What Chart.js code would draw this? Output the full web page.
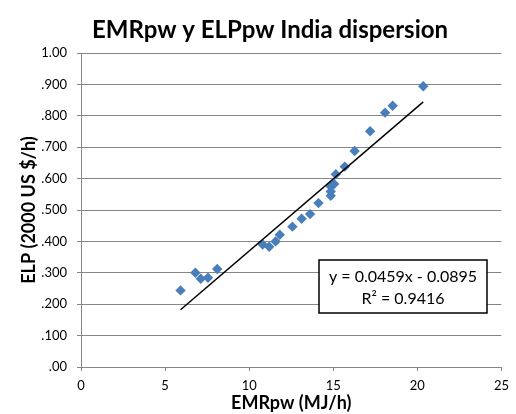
<!DOCTYPE html>
<html>
<head>
<meta charset="utf-8">
<script src="https://cdn.jsdelivr.net/npm/chart.js@4/dist/chart.umd.min.js"></script>
<style>
  html, body { margin: 0; padding: 0; background: #ffffff; }
  #wrap { width: 516px; height: 414px; position: relative; }
</style>
</head>
<body>
<div id="wrap"><canvas id="c" width="516" height="414"></canvas></div>
<script>
// ---- Data ----
const emrValues = [5.92, 6.80, 7.12, 7.55, 8.10, 10.80, 11.19, 11.57, 11.82, 12.57, 13.12, 13.62, 14.12, 14.85, 14.85, 14.85, 15.05, 15.15, 15.68, 16.27, 17.19, 18.08, 18.53, 20.35];
const elpValues = [0.244, 0.300, 0.281, 0.284, 0.312, 0.390, 0.383, 0.400, 0.421, 0.447, 0.472, 0.487, 0.522, 0.545, 0.559, 0.575, 0.583, 0.614, 0.638, 0.688, 0.751, 0.810, 0.832, 0.894];
const xTickValues = [0, 5, 10, 15, 20, 25];
const yTickLabels = ['.00', '.100', '.200', '.300', '.400', '.500', '.600', '.700', '.800', '.900', '1.00'];
const trendSlope = 0.0459;
const trendIntercept = -0.0895;
const chartTitle = 'EMRpw y ELPpw India dispersion';
const equationLines = ['y = 0.0459x - 0.0895', 'R\u00B2 = 0.9416'];

const points = emrValues.map((x, i) => ({ x: x, y: elpValues[i] }));
const xMin = Math.min(...emrValues), xMax = Math.max(...emrValues);
const trend = [xMin, xMax].map(x => ({ x: x, y: trendSlope * x + trendIntercept }));

const FONT = 'Lato, "Open Sans", sans-serif';
const GRID = '#868686';

const titleAndEquation = {
  id: 'titleAndEquation',
  afterDraw(chart) {
    const ctx = chart.ctx;
    ctx.save();
    // chart title
    ctx.fillStyle = '#000000';
    ctx.font = 'bold 24px ' + FONT;
    ctx.textAlign = 'center';
    ctx.textBaseline = 'alphabetic';
    ctx.fillText(chartTitle, 270, 38);
    ctx.restore();
  },
  afterDatasetsDraw(chart) {
    const ctx = chart.ctx;
    const x0 = 319, y0 = 260, w = 168, h = 53;
    ctx.save();
    ctx.fillStyle = '#ffffff';
    ctx.fillRect(x0, y0, w, h);
    ctx.strokeStyle = '#000000';
    ctx.lineWidth = 1.5;
    ctx.strokeRect(x0, y0, w, h);
    ctx.fillStyle = '#000000';
    ctx.font = '16px ' + FONT;
    ctx.textAlign = 'center';
    ctx.textBaseline = 'middle';
    ctx.fillText(equationLines[0], x0 + w / 2, y0 + 17);
    ctx.fillText(equationLines[1], x0 + w / 2, y0 + 39);
    ctx.restore();
  }
};

new Chart(document.getElementById('c'), {
  type: 'scatter',
  data: {
    datasets: [
      {
        label: 'ELP',
        data: points,
        pointStyle: 'rectRot',
        pointRadius: 5.2,
        pointHoverRadius: 5.2,
        backgroundColor: '#4a7ebb',
        borderColor: '#4a7ebb',
        borderWidth: 0,
        order: 2
      },
      {
        label: 'Trend',
        type: 'line',
        data: trend,
        borderColor: '#000000',
        borderWidth: 1.5,
        pointRadius: 0,
        fill: false,
        order: 1
      }
    ]
  },
  options: {
    responsive: false,
    animation: false,
    devicePixelRatio: 1,
    layout: { padding: { left: 0, right: 9, top: 53, bottom: 0 } },
    plugins: {
      legend: { display: false },
      tooltip: { enabled: false },
      title: { display: false }
    },
    scales: {
      x: {
        type: 'linear',
        min: 0,
        max: 25,
        afterBuildTicks(scale) { scale.ticks = xTickValues.map(v => ({ value: v })); },
        afterFit(scale) { scale.height = 47; },
        ticks: {
          color: '#000000',
          font: { family: FONT, size: 13 },
          padding: 7,
          maxRotation: 0,
          autoSkip: false
        },
        grid: { display: true, drawOnChartArea: false, drawTicks: true, tickLength: 4, color: GRID },
        border: { display: true, color: GRID, width: 1 },
        title: {
          display: true,
          text: 'EMRpw (MJ/h)',
          color: '#000000',
          font: { family: FONT, size: 18, weight: 'bold' },
          padding: { top: 0, bottom: 0 }
        }
      },
      y: {
        type: 'linear',
        min: 0,
        max: 1,
        afterBuildTicks(scale) { scale.ticks = yTickLabels.map((_, i) => ({ value: i / 10 })); },
        afterFit(scale) { scale.width = 81; },
        ticks: {
          color: '#000000',
          font: { family: FONT, size: 13 },
          padding: 10,
          autoSkip: false,
          callback: (v) => yTickLabels[Math.round(v * 10)]
        },
        grid: { display: true, drawOnChartArea: true, drawTicks: true, tickLength: 4, color: GRID },
        border: { display: true, color: GRID, width: 1 },
        title: {
          display: true,
          text: 'ELP (2000 US $/h)',
          color: '#000000',
          font: { family: FONT, size: 18, weight: 'bold' },
          padding: { top: 18, bottom: 0 }
        }
      }
    }
  },
  plugins: [titleAndEquation]
});
</script>
</body>
</html>
